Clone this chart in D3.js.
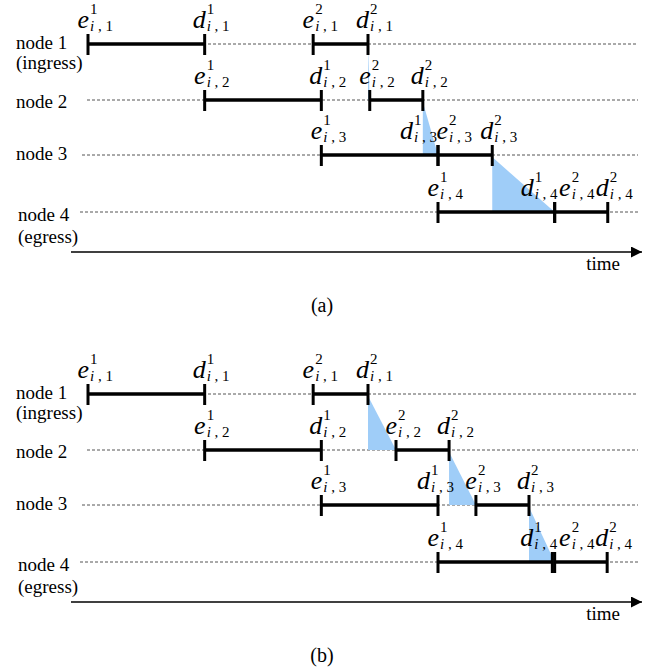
<!DOCTYPE html>
<html>
<head>
<meta charset="utf-8">
<script src="https://cdn.jsdelivr.net/npm/d3@7"></script>
<style>
  body { margin: 0; background: #fff; }
</style>
</head>
<body>
<div id="chart"></div>
<script>
// rows and captions
const nodeNames = ["node 1", "node 2", "node 3", "node 4"];
const nodeNotes = ["(ingress)", "", "", "(egress)"];
const panelNames = ["(a)", "(b)"];
const eventNames = ["e", "d", "e", "d"];   // e^1, d^1, e^2, d^2
const eventSups = ["1", "1", "2", "2"];

// event times per node: [e1, d1, e2, d2]
const timesA = [
  [0, 2, 3.86, 4.8],
  [2, 4, 4.83, 5.74],
  [4, 6, 6, 6.93],
  [6, 8, 8, 8.91]
];
const timesB = [
  [0, 2, 3.86, 4.8],
  [2, 4, 5.28, 6.19],
  [4, 6, 6.65, 7.56],
  [6, 7.96, 8, 8.9]
];

const width = 651;
const height = 670;
const FONT = "Liberation Serif";

// layout only: label nudges where labels collide (panel-node-event)
const labelNudge = {
  "0-2-1": -26, "0-2-2": 9, "0-3-1": -22, "0-3-2": 15,
  "1-2-1": -9, "1-3-1": -20, "1-3-2": 15
};
const rowY = [44, 100, 155, 212];
const rowStart = [88, 87, 82, 80];
const nameDy = [5, 8, 5, 9];
const panelTop = [0, 350];

const x = d3.scaleLinear().domain([0, 6]).range([88, 438]);

const svg = d3.select("#chart")
  .append("svg")
  .attr("width", width)
  .attr("height", height);

function label(sel, size) {
  return sel.append("text")
    .style("font-family", FONT)
    .style("font-size", size + "px")
    .attr("fill", "#000");
}

const defs = svg.append("defs");
defs.append("marker")
  .attr("id", "arrow")
  .attr("viewBox", "0 0 10 10")
  .attr("refX", 10)
  .attr("refY", 5)
  .attr("markerWidth", 18)
  .attr("markerHeight", 11)
  .attr("markerUnits", "userSpaceOnUse")
  .attr("orient", "auto")
  .append("path")
  .attr("d", "M0,0L10,5L0,10Z")
  .attr("fill", "#000");

[timesA, timesB].forEach((times, p) => {
  const g = svg.append("g").attr("transform", `translate(0,${panelTop[p]})`);

  // dashed row guides
  g.selectAll(".guide")
    .data(nodeNames)
    .enter().append("line")
    .attr("x1", (d, i) => rowStart[i])
    .attr("x2", 638)
    .attr("y1", (d, i) => rowY[i])
    .attr("y2", (d, i) => rowY[i])
    .attr("stroke", "#555")
    .attr("stroke-width", 1)
    .attr("stroke-dasharray", "3,2");

  // blue waiting triangles: from d2 of node k down to e2 of node k+1
  g.selectAll(".wait")
    .data(d3.range(nodeNames.length - 1))
    .enter().append("path")
    .attr("d", k => {
      const x0 = x(times[k][3]);
      const x1 = x(times[k + 1][2]);
      return `M${x0},${rowY[k] + 2}L${x0},${rowY[k + 1]}L${x1},${rowY[k + 1]}Z`;
    })
    .attr("fill", "#9fcdf8");

  // node labels
  nodeNames.forEach((name, i) => {
    const lx = i === 3 ? 18 : 16;
    label(g, 19)
      .attr("x", lx)
      .attr("y", rowY[i] + nameDy[i])
      .text(name);
    if (nodeNotes[i]) {
      label(g, 19)
        .attr("x", lx)
        .attr("y", rowY[i] + (i === 3 ? 31 : 25))
        .text(nodeNotes[i]);
    }
  });

  times.forEach((t, k) => {
    const row = g.append("g");
    const y = rowY[k];

    // processing bars
    [[t[0], t[1]], [t[2], t[3]]].forEach(seg => {
      row.append("line")
        .attr("x1", x(seg[0])).attr("x2", x(seg[1]))
        .attr("y1", y).attr("y2", y)
        .attr("stroke", "#000")
        .attr("stroke-width", 3.5);
    });

    // ticks
    row.selectAll(".tick")
      .data(t)
      .enter().append("line")
      .attr("x1", d => x(d)).attr("x2", d => x(d))
      .attr("y1", y - 10).attr("y2", y + 11)
      .attr("stroke", "#000")
      .attr("stroke-width", 3);

    // event labels
    t.forEach((v, j) => {
      const nx = labelNudge[`${p}-${k}-${j}`] || 0;
      const tx = x(v) + nx;
      label(row, 26)
        .attr("x", tx + 1)
        .attr("y", y - 16)
        .attr("text-anchor", "end")
        .style("font-style", "italic")
        .text(eventNames[j]);
      label(row, 15)
        .attr("x", tx + 2)
        .attr("y", y - 30)
        .text(eventSups[j]);
      const sub = label(row, 15)
        .attr("x", tx + 2)
        .attr("y", y - 13);
      sub.append("tspan").style("font-style", "italic").text("i");
      sub.append("tspan").text(` , ${k + 1}`);
    });
  });

  // time axis
  g.append("line")
    .attr("x1", 71).attr("x2", 642)
    .attr("y1", 252).attr("y2", 252)
    .attr("stroke", "#000")
    .attr("stroke-width", 1.3)
    .attr("marker-end", "url(#arrow)");

  label(g, 19)
    .attr("x", 620)
    .attr("y", 270)
    .attr("text-anchor", "end")
    .text("time");

  label(g, 20)
    .attr("x", 322)
    .attr("y", 312)
    .attr("text-anchor", "middle")
    .text(panelNames[p]);
});
</script>
</body>
</html>
